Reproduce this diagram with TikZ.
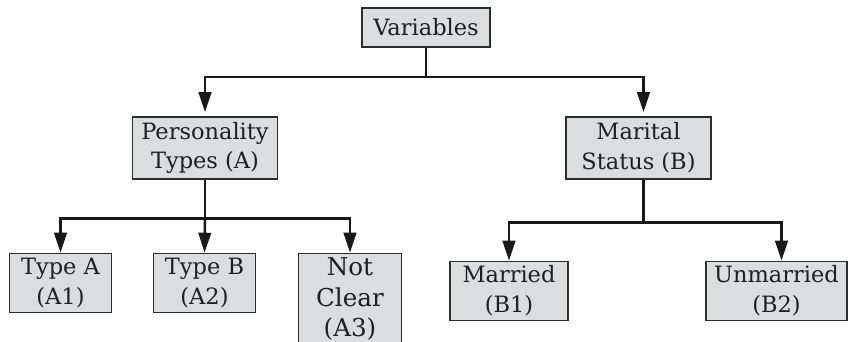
\documentclass[tikz,border=0pt]{standalone}
\usepackage{fontspec}
\setmainfont{DejaVu Serif}
\usepackage{xcolor}
\usetikzlibrary{arrows.meta,positioning,calc}

\definecolor{boxgray}{RGB}{220,221,223}
\definecolor{boxline}{RGB}{45,45,45}

\begin{document}
\begin{tikzpicture}[
    box/.style={rectangle, draw=boxline, line width=0.9pt, fill=boxgray,
                minimum height=1.18cm, align=center, inner sep=2pt,
                font=\fontsize{12.8}{17}\selectfont, text=black!88},
    arr/.style={-{Triangle[length=0.4cm,width=0.25cm]}, line width=1.4pt, black!90},
    link/.style={line width=1.4pt, black!90},
  ]
  \useasboundingbox (0,0) rectangle (16.96,-6.84);

  % Top level
  \node[box, minimum width=2.56cm, minimum height=0.78cm] (var) at (8.52,-0.55) {Variables};

  % Second level
  \node[box, minimum width=2.9cm, minimum height=1.24cm] (pers) at (4.1,-2.96) {Personality\\Types (A)};
  \node[box, minimum width=2.9cm, minimum height=1.24cm] (mar) at (12.77,-2.96) {Marital\\Status (B)};

  % Personality types
  \node[box, minimum width=2.04cm] (typea) at (1.21,-5.66) {Type A\\(A1)};
  \node[box, minimum width=2.04cm] (typeb) at (4.09,-5.66) {Type B\\(A2)};
  \node[box, minimum width=2.06cm, minimum height=1.82cm,
        font=\fontsize{14}{17.3}\selectfont] (notc) at (7.0,-5.98) {Not\\Clear\\(A3)};

  % Marital status
  \node[box, minimum width=2.36cm] (marr) at (10.18,-5.82) {Married\\(B1)};
  \node[box, minimum width=2.81cm] (unmarr) at (15.53,-5.82) {Unmarried\\(B2)};

  % Joints
  \coordinate (jv) at ($(var.south)+(0,-0.58)$);
  \coordinate (jp) at ($(pers.south)+(0,-0.77)$);
  \coordinate (jm) at ($(mar.south)+(0.1,-0.85)$);

  \draw[link] (var.south) -- (jv);
  \draw[arr, shorten >=0.08cm] (jv) -| (pers.north);
  \draw[arr, shorten >=0.08cm] (jv) -| ([xshift=0.1cm]mar.north);

  \draw[link] (pers.south) -- (jp);
  \draw[arr] (jp) -| (typea.north);
  \draw[arr] (jp) -- (typeb.north);
  \draw[arr] (jp) -| (notc.north);

  \draw[link] ([xshift=0.1cm]mar.south) -- (jm);
  \draw[arr] (jm) -| (marr.north);
  \draw[arr] (jm) -| ([xshift=0.1cm]unmarr.north);

\end{tikzpicture}
\end{document}
